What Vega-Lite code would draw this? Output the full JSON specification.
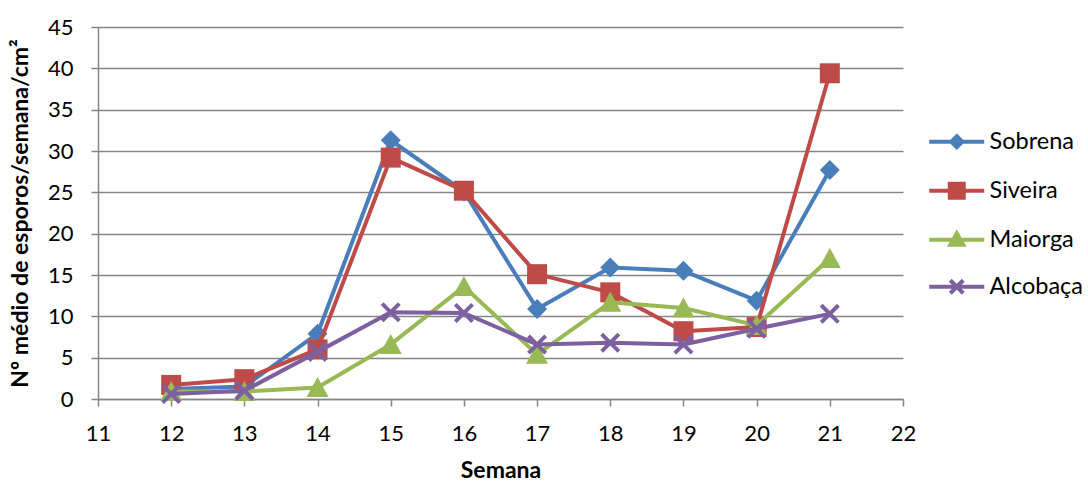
{
  "$schema": "https://vega.github.io/schema/vega-lite/v6.json",
  "width": 805,
  "height": 372,
  "autosize": {"type": "none"},
  "padding": {"left": 98, "top": 27, "right": 185, "bottom": 83},
  "background": "white",
  "config": {"view": {"stroke": null}, "font": "Lato"},
  "data": {
    "values": [
      {"semana": 12, "local": "Sobrena", "valor": 1.2},
      {"semana": 13, "local": "Sobrena", "valor": 1.5},
      {"semana": 14, "local": "Sobrena", "valor": 7.9},
      {"semana": 15, "local": "Sobrena", "valor": 31.3},
      {"semana": 16, "local": "Sobrena", "valor": 25.1},
      {"semana": 17, "local": "Sobrena", "valor": 10.9},
      {"semana": 18, "local": "Sobrena", "valor": 15.9},
      {"semana": 19, "local": "Sobrena", "valor": 15.5},
      {"semana": 20, "local": "Sobrena", "valor": 11.9},
      {"semana": 21, "local": "Sobrena", "valor": 27.7},
      {"semana": 12, "local": "Siveira", "valor": 1.7},
      {"semana": 13, "local": "Siveira", "valor": 2.4},
      {"semana": 14, "local": "Siveira", "valor": 6.0},
      {"semana": 15, "local": "Siveira", "valor": 29.2},
      {"semana": 16, "local": "Siveira", "valor": 25.2},
      {"semana": 17, "local": "Siveira", "valor": 15.1},
      {"semana": 18, "local": "Siveira", "valor": 12.9},
      {"semana": 19, "local": "Siveira", "valor": 8.2},
      {"semana": 20, "local": "Siveira", "valor": 8.7},
      {"semana": 21, "local": "Siveira", "valor": 39.4},
      {"semana": 12, "local": "Maiorga", "valor": 0.9},
      {"semana": 13, "local": "Maiorga", "valor": 0.9},
      {"semana": 14, "local": "Maiorga", "valor": 1.4},
      {"semana": 15, "local": "Maiorga", "valor": 6.6},
      {"semana": 16, "local": "Maiorga", "valor": 13.6},
      {"semana": 17, "local": "Maiorga", "valor": 5.4},
      {"semana": 18, "local": "Maiorga", "valor": 11.7},
      {"semana": 19, "local": "Maiorga", "valor": 11.0},
      {"semana": 20, "local": "Maiorga", "valor": 8.9},
      {"semana": 21, "local": "Maiorga", "valor": 17.0},
      {"semana": 12, "local": "Alcobaça", "valor": 0.6},
      {"semana": 13, "local": "Alcobaça", "valor": 1.0},
      {"semana": 14, "local": "Alcobaça", "valor": 5.7},
      {"semana": 15, "local": "Alcobaça", "valor": 10.5},
      {"semana": 16, "local": "Alcobaça", "valor": 10.4},
      {"semana": 17, "local": "Alcobaça", "valor": 6.6},
      {"semana": 18, "local": "Alcobaça", "valor": 6.8},
      {"semana": 19, "local": "Alcobaça", "valor": 6.6},
      {"semana": 20, "local": "Alcobaça", "valor": 8.5},
      {"semana": 21, "local": "Alcobaça", "valor": 10.3}
    ]
  },
  "encoding": {
    "x": {
      "field": "semana",
      "type": "quantitative",
      "scale": {"domain": [11, 22], "nice": false, "zero": false},
      "axis": {
        "values": [11, 12, 13, 14, 15, 16, 17, 18, 19, 20, 21, 22],
        "format": "d",
        "grid": false,
        "labelFontSize": 22,
        "labelColor": "#000000",
        "labelPadding": 17,
        "labelFlush": false,
        "domainColor": "#868686",
        "domainWidth": 1.5,
        "tickColor": "#868686",
        "tickWidth": 1.5,
        "tickSize": 7,
        "title": "Semana",
        "titleFontSize": 23,
        "titleFontWeight": "bold",
        "titleColor": "#000000",
        "titlePadding": 15
      }
    },
    "y": {
      "field": "valor",
      "type": "quantitative",
      "scale": {"domain": [0, 45], "nice": false},
      "axis": {
        "values": [0, 5, 10, 15, 20, 25, 30, 35, 40, 45],
        "grid": true,
        "gridColor": "#868686",
        "gridWidth": 1.5,
        "labelFontSize": 22,
        "labelColor": "#000000",
        "labelPadding": 18,
        "labelFlush": false,
        "domainColor": "#868686",
        "domainWidth": 1.5,
        "tickColor": "#868686",
        "tickWidth": 1.5,
        "tickSize": 7,
        "title": "Nº  médio de esporos/semana/cm²",
        "titleFontSize": 23,
        "titleFontWeight": "bold",
        "titleColor": "#000000",
        "titlePadding": 15
      }
    },
    "color": {
      "field": "local",
      "type": "nominal",
      "scale": {
        "domain": ["Sobrena", "Siveira", "Maiorga", "Alcobaça"],
        "range": ["#4A7EBB", "#BE4B48", "#98B954", "#7D60A0"]
      },
      "legend": {
        "title": null,
        "orient": "none",
        "legendX": 847,
        "legendY": 103,
        "padding": 0,
        "symbolSize": 100,
        "labelFontSize": 23.5,
        "labelColor": "#000000",
        "labelOffset": 21,
        "rowPadding": 19,
        "encode": {
          "symbols": {
            "update": {
              "shape": {"signal": "datum.value === 'Sobrena' ? 'M-5.5,0L5.5,0M0,-1.1L1.1,0L0,1.1L-1.1,0Z' : datum.value === 'Siveira' ? 'M-5.5,0L5.5,0M-1.4,-1.4L1.4,-1.4L1.4,1.4L-1.4,1.4Z' : datum.value === 'Maiorga' ? 'M-5.5,0L5.5,0M0,-1.3L1.3,1L-1.3,1Z' : 'M-5.5,0L5.5,0M-1.3,-1.3L1.3,1.3M-1.3,1.3L1.3,-1.3'"},
              "fill": {"scale": "color", "field": "value"},
              "stroke": {"scale": "color", "field": "value"},
              "strokeWidth": {"value": 4},
              "opacity": {"value": 1},
              "fillOpacity": {"value": 1},
              "strokeOpacity": {"value": 1}
            }
          }
        }
      }
    }
  },
  "layer": [
    {
      "transform": [{"filter": "datum.local === 'Sobrena'"}],
      "mark": {"type": "line", "strokeWidth": 4, "strokeJoin": "round"}
    },
    {
      "transform": [{"filter": "datum.local === 'Sobrena'"}],
      "mark": {"type": "point", "filled": true, "opacity": 1, "size": 400, "shape": "M0,-1L1,0L0,1L-1,0Z"}
    },
    {
      "transform": [{"filter": "datum.local === 'Siveira'"}],
      "mark": {"type": "line", "strokeWidth": 4, "strokeJoin": "round"}
    },
    {
      "transform": [{"filter": "datum.local === 'Siveira'"}],
      "mark": {"type": "point", "filled": true, "opacity": 1, "size": 400, "shape": "M-1,-1L1,-1L1,1L-1,1Z"}
    },
    {
      "transform": [{"filter": "datum.local === 'Maiorga'"}],
      "mark": {"type": "line", "strokeWidth": 4, "strokeJoin": "round"}
    },
    {
      "transform": [{"filter": "datum.local === 'Maiorga'"}],
      "mark": {"type": "point", "filled": true, "opacity": 1, "size": 400, "shape": "M0,-1.05L1.1,0.95L-1.1,0.95Z"}
    },
    {
      "transform": [{"filter": "datum.local === 'Alcobaça'"}],
      "mark": {"type": "line", "strokeWidth": 4, "strokeJoin": "round"}
    },
    {
      "transform": [{"filter": "datum.local === 'Alcobaça'"}],
      "mark": {"type": "point", "filled": true, "opacity": 1, "size": 400, "shape": "M-1,-0.72L-0.72,-1L1,0.72L0.72,1Z M0.72,-1L1,-0.72L-0.72,1L-1,0.72Z"}
    }
  ]
}
